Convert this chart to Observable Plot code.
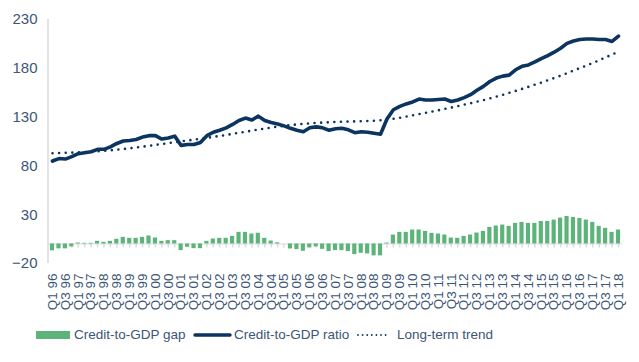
<!DOCTYPE html>
<html><head><meta charset="utf-8">
<script src="https://cdn.jsdelivr.net/npm/d3@7"></script>
<script src="https://cdn.jsdelivr.net/npm/@observablehq/plot@0.6"></script>
<style>
body{margin:0;background:#fff;font-family:"Liberation Sans",Arial,sans-serif;}
#chart svg [aria-label^="x-axis"] text{font-size:13.5px;}
#chart svg [aria-label^="y-axis"] text{font-size:15px;}
#legend{position:relative;width:639px;height:50px;font-size:13.5px;color:#3b5676;line-height:16px;}
#legend .it{position:absolute;white-space:nowrap;}
</style></head><body>
<div id="chart"></div>
<div id="legend"></div>
<script>
const quarters = [
"Q1 96","Q2 96","Q3 96","Q4 96","Q1 97","Q2 97","Q3 97","Q4 97","Q1 98","Q2 98","Q3 98","Q4 98",
"Q1 99","Q2 99","Q3 99","Q4 99","Q1 00","Q2 00","Q3 00","Q4 00","Q1 01","Q2 01","Q3 01","Q4 01",
"Q1 02","Q2 02","Q3 02","Q4 02","Q1 03","Q2 03","Q3 03","Q4 03","Q1 04","Q2 04","Q3 04","Q4 04",
"Q1 05","Q2 05","Q3 05","Q4 05","Q1 06","Q2 06","Q3 06","Q4 06","Q1 07","Q2 07","Q3 07","Q4 07",
"Q1 08","Q2 08","Q3 08","Q4 08","Q1 09","Q2 09","Q3 09","Q4 09","Q1 10","Q2 10","Q3 10","Q4 10",
"Q1 11","Q2 11","Q3 11","Q4 11","Q1 12","Q2 12","Q3 12","Q4 12","Q1 13","Q2 13","Q3 13","Q4 13",
"Q1 14","Q2 14","Q3 14","Q4 14","Q1 15","Q2 15","Q3 15","Q4 15","Q1 16","Q2 16","Q3 16","Q4 16",
"Q1 17","Q2 17","Q3 17","Q4 17","Q1 18"];
const xTickLabels = [
"Q1 96","Q3 96","Q1 97","Q3 97","Q1 98","Q3 98","Q1 99","Q3 99","Q1 00","Q3 00","Q1 01","Q3 01",
"Q1 02","Q3 02","Q1 03","Q3 03","Q1 04","Q3 04","Q1 05","Q3 05","Q1 06","Q3 06","Q1 07","Q3 07",
"Q1 08","Q3 08","Q1 09","Q3 09","Q1 10","Q3 10","Q1 11","Q3 11","Q1 12","Q3 12","Q1 13","Q3 13",
"Q1 14","Q3 14","Q1 15","Q3 15","Q1 16","Q3 16","Q1 17","Q3 17","Q1 18"];
const yTicks = [-20, 30, 80, 130, 180, 230];
const ratio = [
85, 87.5, 87, 89.5, 92.5, 93.5, 94.5, 97, 97, 99.5,
103, 105.5, 106, 107, 109.5, 111, 111, 107.5, 108.5, 110.5,
101, 102, 102, 104, 111, 114.5, 116.5, 119, 122.5, 126.5,
129, 127, 131, 126.5, 124.5, 123, 121, 118.5, 116.5, 115,
119, 120, 119, 116.5, 118, 118.5, 117, 114, 115, 114.5,
113.5, 112.5, 128, 137.5, 141, 143.5, 145.5, 148.5, 147.5, 147.5,
148, 148.5, 146, 147.5, 150, 153, 157.5, 161.5, 166.5, 170,
172, 173, 178.5, 182, 183.5, 186.5, 190, 193, 196.5, 200.5,
205.5, 208, 209.5, 210, 210, 209.5, 209.5, 207.5, 213];
const trend = [
93, 93.2, 93.4, 93.6, 93.8, 94.1, 94.5, 95, 95.5, 96,
96.6, 97.3, 98, 98.8, 99.7, 100.6, 101.5, 102.4, 103.3, 104.2,
105.1, 106, 106.9, 107.8, 108.7, 109.7, 110.7, 111.7, 112.8, 113.9,
115, 116.1, 117.2, 118.3, 119.3, 120.2, 121, 121.8, 122.5, 123.1,
123.6, 124, 124.4, 124.7, 125, 125.2, 125.4, 125.6, 125.8, 126,
126.3, 126.7, 127.3, 128.2, 129.3, 130.5, 131.8, 133.1, 134.4, 135.7,
137, 138.4, 139.8, 141.2, 142.7, 144.2, 145.8, 147.4, 149.1, 150.9,
152.8, 154.8, 156.8, 158.9, 161, 163.2, 165.4, 167.7, 170, 172.4,
175, 177.6, 180.2, 182.8, 185.4, 188.3, 191.2, 194.1, 197];
const gap = [
-7, -5, -5, -3, 1, 0.7, 0.7, 2.7, 1.7, 2.7,
4.8, 6.8, 5.8, 5.8, 6.8, 8.2, 6.1, 2.7, 3.4, 3.4,
-6.8, -3.4, -4.8, -4.8, 2.7, 5.1, 5.8, 5.8, 7.8, 11.9,
11.9, 10.2, 11, 5.8, 3, 1.2, 0, -5.1, -5.8, -7.5,
-4, -3, -5.5, -7.8, -6.8, -6.8, -7.8, -10.9, -9.5, -10.2,
-12.2, -12.2, 1, 9.2, 11.9, 11.9, 14.3, 14.3, 12.9, 10.9,
10.2, 9.2, 6.1, 5.8, 7.8, 9.2, 11.2, 12.9, 17, 18.4,
19.4, 18, 21.1, 22.1, 21.1, 21.1, 23.1, 23.1, 24.5, 26.5,
28.2, 27.2, 26.2, 24.5, 22.1, 18, 16, 11.9, 14.3];

const seriesNames = ["Credit-to-GDP gap", "Credit-to-GDP ratio", "Long-term trend"];
const navy = "#0b3560", green = "#5db47a", grid = "#d9d9e3", ink = "#3b5676";

const data = quarters.map((q, i) => ({q, ratio: ratio[i], trend: trend[i], gap: gap[i]}));

const plot = Plot.plot({
  width: 639, height: 312,
  marginTop: 19, marginBottom: 49, marginLeft: 48, marginRight: 17,
  style: {fontFamily: "Liberation Sans, Arial, sans-serif", fontSize: "14px", color: ink, background: "white", overflow: "visible"},
  x: {type: "band", domain: quarters, paddingInner: 0.35, paddingOuter: 0.3, ticks: xTickLabels,
      tickSize: 0, tickRotate: -90, tickPadding: 10, label: null},
  y: {domain: [-20, 230], ticks: yTicks, tickSize: 0, tickPadding: 11, label: null},
  marks: [
    Plot.ruleY([0], {stroke: grid, strokeWidth: 1}),
    Plot.ruleX(quarters, {x: d => d, y1: 0, y2: -4, stroke: grid, strokeWidth: 1.5}),
    Plot.barY(data, {x: "q", y: "gap", fill: green}),
    Plot.line(data, {x: "q", y: "trend", stroke: navy, strokeWidth: 2.6, strokeDasharray: "0 6.6", strokeLinecap: "round"}),
    Plot.line(data, {x: "q", y: "ratio", stroke: navy, strokeWidth: 3.6, strokeLinejoin: "round", strokeLinecap: "round"})
  ]
});

// left axis line
const ys = plot.scale("y"), xs = plot.scale("x");
const x0 = xs.range[0];
d3.select(plot).insert("line", ":first-child")
  .attr("x1", x0).attr("x2", x0)
  .attr("y1", ys.apply(230)).attr("y2", ys.apply(-20))
  .attr("stroke", grid).attr("stroke-width", 1.5);
d3.select(plot).insert("rect", ":first-child").attr("width", 639).attr("height", 312).attr("fill", "white");

document.getElementById("chart").appendChild(plot);

// legend
const lg = d3.select("#legend");
lg.append("div").attr("class", "it").style("left", "36px").style("top", "19px")
  .style("width", "34px").style("height", "8px").style("background", green);
lg.append("div").attr("class", "it").style("left", "74px").style("top", "15px").text(seriesNames[0]);
const s1 = lg.append("svg").attr("class", "it").style("left", "193px").style("top", "18px").attr("width", 40).attr("height", 10);
s1.append("line").attr("x1", 2).attr("x2", 37).attr("y1", 5).attr("y2", 5).attr("stroke", navy).attr("stroke-width", 3.4).attr("stroke-linecap", "round");
lg.append("div").attr("class", "it").style("left", "234px").style("top", "15px").text(seriesNames[1]);
const s2 = lg.append("svg").attr("class", "it").style("left", "355px").style("top", "18px").attr("width", 36).attr("height", 10);
s2.append("line").attr("x1", 3).attr("x2", 33).attr("y1", 5).attr("y2", 5).attr("stroke", navy).attr("stroke-width", 1.8).attr("stroke-dasharray", "0 4.6").attr("stroke-linecap", "round");
lg.append("div").attr("class", "it").style("left", "397px").style("top", "15px").text(seriesNames[2]);
</script>
</body></html>
